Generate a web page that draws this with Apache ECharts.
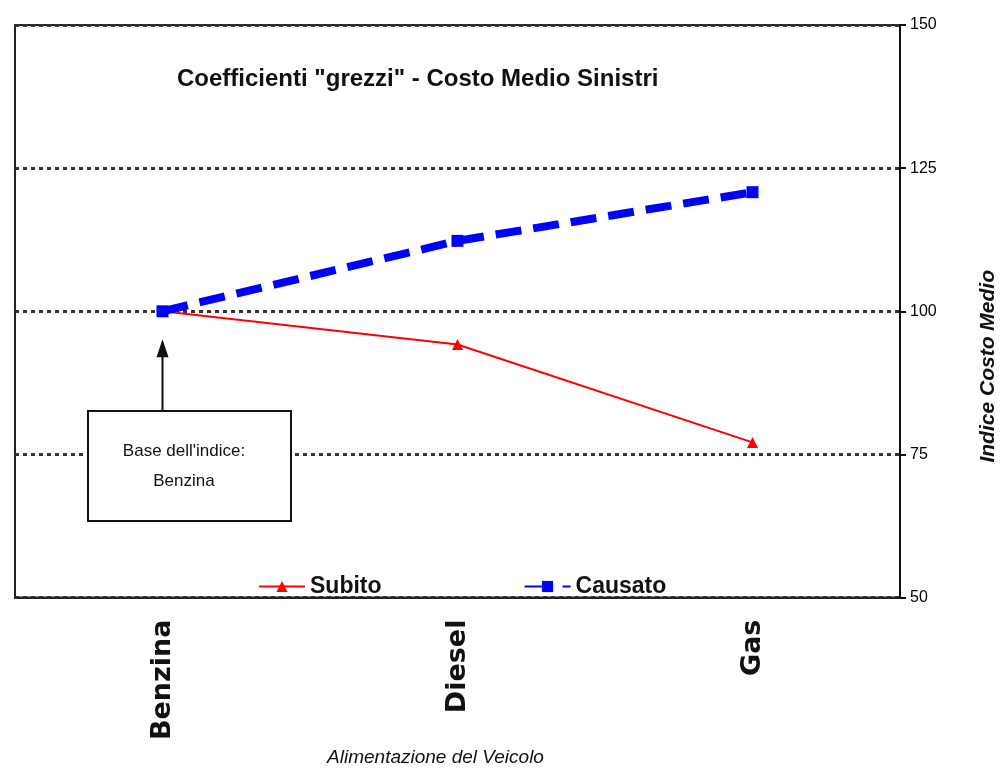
<!DOCTYPE html>
<html>
<head>
<meta charset="utf-8">
<script src="https://cdn.jsdelivr.net/npm/echarts@6/dist/echarts.min.js"></script>
<style>html,body{margin:0;padding:0;background:#fff;}#c{width:1007px;height:772px;}</style>
</head>
<body>
<div id="c"></div>
<script>
var categories = ['Benzina', 'Diesel', 'Gas'];
var subito = [100, 94.2, 77.1];
var causato = [100, 112.3, 120.8];
var yTicks = [50, 75, 100, 125, 150];
var titleText = 'Coefficienti "grezzi" - Costo Medio Sinistri';
var noteText = "Base dell'indice:\nBenzina";

var chart = echarts.init(document.getElementById('c'));
var option = {
  backgroundColor: '#fff',
  animation: false,
  title: {
    text: titleText, left: 172, top: 62,
    textStyle: { fontFamily: 'Liberation Sans', fontWeight: 'bold', fontSize: 24, color: '#111' }
  },
  legend: {
    left: 253, top: 570, itemGap: 142, itemWidth: 46, itemHeight: 14,
    textStyle: { fontFamily: 'Liberation Sans', fontWeight: 'bold', fontSize: 23, color: '#111' },
    data: ['Subito', 'Causato']
  },
  grid: { left: 15, right: 96, top: 25, bottom: 162, show: true, borderColor: '#222', borderWidth: 2, backgroundColor: '#fff' },
  xAxis: {
    type: 'category', data: categories, boundaryGap: true,
    axisLine: { show: true, lineStyle: { color: '#222', width: 2 } },
    axisTick: { show: false },
    axisLabel: { rotate: 90, margin: 22, fontFamily: 'DejaVu Sans', fontWeight: 'bold', fontSize: 27, color: '#111' },
    name: 'Alimentazione del Veicolo', nameLocation: 'middle', nameGap: 148,
    nameTextStyle: { fontFamily: 'Liberation Sans', fontStyle: 'italic', fontSize: 19, color: '#111', padding: [0, 44, 0, 0] }
  },
  yAxis: {
    type: 'value', position: 'right', min: yTicks[0], max: yTicks[yTicks.length - 1], interval: 25,
    axisLine: { show: true, lineStyle: { color: '#111', width: 2 } },
    axisTick: { show: true, inside: false, length: 6, lineStyle: { color: '#111', width: 2 } },
    axisLabel: { margin: 10, fontFamily: 'Liberation Sans', fontSize: 16, color: '#000' },
    splitLine: { show: true, lineStyle: { color: '#333', width: 3, type: [4, 4] } },
    name: 'Indice Costo Medio', nameLocation: 'middle', nameGap: 78, nameRotate: 90,
    nameTextStyle: { fontFamily: 'Liberation Sans', fontStyle: 'italic', fontWeight: 'bold', fontSize: 21, color: '#111', padding: [0, 110, 0, 0] }
  },
  series: [
    {
      name: 'Subito', type: 'line', data: subito, z: 3,
      symbol: 'triangle', symbolSize: 11, showAllSymbol: true,
      lineStyle: { color: '#ff0000', width: 2 },
      itemStyle: { color: '#ff0000' }
    },
    {
      name: 'Causato', type: 'line', data: causato, z: 4,
      symbol: 'rect', symbolSize: 12,
      lineStyle: { color: '#0000ff', width: 8, type: [26, 12] },
      itemStyle: { color: '#0000ff' }
    }
  ]
};
chart.setOption(option);

var baseX = chart.convertToPixel({ xAxisIndex: 0 }, categories[0]);
var baseY = chart.convertToPixel({ yAxisIndex: 0 }, subito[0]);
chart.setOption({
  graphic: [
    { type: 'rect', shape: { x: 88, y: 411, width: 203, height: 110 }, style: { fill: '#fff', stroke: '#111', lineWidth: 2 }, z: 10 },
    { type: 'text', style: { x: 184, y: 466, text: noteText, align: 'center', verticalAlign: 'middle', fontFamily: 'Liberation Sans', fontSize: 17, lineHeight: 30, fill: '#111' }, z: 11 },
    { type: 'line', shape: { x1: baseX, y1: 411, x2: baseX, y2: baseY + 42 }, style: { stroke: '#111', lineWidth: 2 }, z: 10 },
    { type: 'polygon', shape: { points: [[baseX, baseY + 28], [baseX - 6, baseY + 46], [baseX + 6, baseY + 46]] }, style: { fill: '#111' }, z: 10 }
  ]
});
</script>
</body>
</html>
